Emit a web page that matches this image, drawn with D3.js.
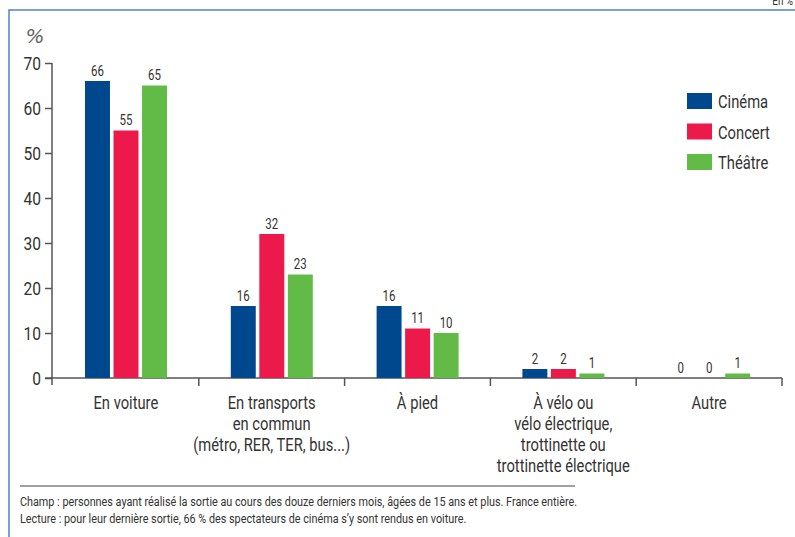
<!DOCTYPE html>
<html>
<head>
<meta charset="utf-8">
<script src="https://cdn.jsdelivr.net/npm/d3@7"></script>
<style>
  body { margin: 0; background: #fff; }
  svg text { font-family: "Liberation Sans Narrow", "Arial Narrow", "Roboto", sans-serif; fill: #333; }
</style>
</head>
<body>
<div id="chart"></div>
<script>
// data
var categories = ["En voiture", "En transports en commun", "À pied", "À vélo", "Autre"];
var categoryLines = [
  ["En voiture"],
  ["En transports", "en commun", "(métro, RER, TER, bus...)"],
  ["À pied"],
  ["À vélo ou", "vélo électrique,", "trottinette ou", "trottinette électrique"],
  ["Autre"]
];
var seriesNames = ["Cinéma", "Concert", "Théâtre"];
var cinema = [66, 16, 16, 2, 0];
var concert = [55, 32, 11, 2, 0];
var theatre = [65, 23, 10, 1, 1];
var yTicks = [0, 10, 20, 30, 40, 50, 60, 70];
var colors = ["#00488d", "#ec1a4a", "#62bb46"];
var footnotes = [
  "Champ : personnes ayant réalisé la sortie au cours des douze derniers mois, âgées de 15 ans et plus. France entière.",
  "Lecture : pour leur dernière sortie, 66 % des spectateurs de cinéma s’y sont rendus en voiture."
];

var width = 795, height = 537;
var values = [cinema, concert, theatre];

var svg = d3.select("#chart")
    .append("svg")
    .attr("width", width)
    .attr("height", height);

// frame
svg.append("path")
    .attr("d", "M9,537V10H795")
    .attr("fill", "none")
    .attr("stroke", "#4f82c0")
    .attr("stroke-width", 1.5);

svg.append("text")
    .attr("x", 793).attr("y", 5)
    .attr("text-anchor", "end")
    .attr("font-size", 12)
    .text("En %");

var x = d3.scaleBand()
    .domain(categories)
    .range([53, 782]);

var x1 = d3.scaleBand()
    .domain(seriesNames)
    .range([32, 114])
    .paddingInner(0.125);

var y = d3.scaleLinear()
    .domain([0, 70])
    .range([378, 63]);

// y axis
var yAxis = svg.append("g")
    .attr("transform", "translate(52,0)")
    .call(d3.axisLeft(y).tickValues(yTicks).tickSize(7).tickPadding(4).tickSizeOuter(0));
yAxis.select(".domain").remove();
yAxis.append("line")
    .attr("x1", 0).attr("x2", 0)
    .attr("y1", y(70)).attr("y2", 385)
    .attr("stroke", "#555").attr("stroke-width", 1.5);
yAxis.selectAll(".tick line").attr("stroke", "#555").attr("stroke-width", 1.5);
yAxis.selectAll(".tick text")
    .attr("font-size", 19)
    .attr("dy", "0.36em")
    .style("fill", "#333")
    .style("font-family", "\"Liberation Sans Narrow\", \"Arial Narrow\", Roboto, sans-serif");

// x axis line and group ticks
svg.append("line")
    .attr("x1", 45).attr("x2", 782)
    .attr("y1", y(0)).attr("y2", y(0))
    .attr("stroke", "#555").attr("stroke-width", 1.5);

svg.selectAll(".gtick")
    .data(categories)
    .enter()
    .append("line")
    .attr("class", "gtick")
    .attr("x1", function(d) { return x(d) + x.bandwidth(); })
    .attr("x2", function(d) { return x(d) + x.bandwidth(); })
    .attr("y1", y(0)).attr("y2", y(0) + 8)
    .attr("stroke", "#555").attr("stroke-width", 1.5);

// bars
var groups = svg.selectAll(".group")
    .data(categories)
    .enter()
    .append("g")
    .attr("class", "group")
    .attr("transform", function(d) { return "translate(" + x(d) + ",0)"; });

seriesNames.forEach(function(s, si) {
  groups.append("rect")
      .attr("x", x1(s))
      .attr("y", function(d, i) { return y(values[si][i]); })
      .attr("width", x1.bandwidth())
      .attr("height", function(d, i) { return y(0) - y(values[si][i]); })
      .attr("fill", colors[si]);

  groups.append("text")
      .attr("x", x1(s) + x1.bandwidth() / 2)
      .attr("y", function(d, i) { return y(values[si][i]) - 5; })
      .attr("text-anchor", "middle")
      .attr("font-size", 14)
      .text(function(d, i) { return values[si][i]; });
});

// category labels
groups.append("text")
    .attr("text-anchor", "middle")
    .attr("font-size", 18)
    .each(function(d, i) {
      var t = d3.select(this);
      categoryLines[i].forEach(function(line, li) {
        t.append("tspan")
            .attr("x", x.bandwidth() / 2)
            .attr("y", 409 + li * 21)
            .text(line);
      });
    });

// legend
var legend = svg.selectAll(".legend")
    .data(seriesNames)
    .enter()
    .append("g")
    .attr("class", "legend")
    .attr("transform", function(d, i) { return "translate(687," + (93 + i * 30.5) + ")"; });

legend.append("rect")
    .attr("width", 25).attr("height", 16)
    .attr("fill", function(d, i) { return colors[i]; });

legend.append("text")
    .attr("x", 31).attr("y", 15)
    .attr("font-size", 18)
    .text(function(d) { return d; });

// footnotes
svg.append("line")
    .attr("x1", 20).attr("x2", 575)
    .attr("y1", 486).attr("y2", 486)
    .attr("stroke", "#444").attr("stroke-width", 1);

svg.selectAll(".foot")
    .data(footnotes)
    .enter()
    .append("text")
    .attr("class", "foot")
    .attr("x", 20)
    .attr("y", function(d, i) { return 506 + i * 17; })
    .attr("font-size", 13.2)
    .text(function(d) { return d; });

// no condensed face installed: squeeze all text horizontally round its anchor
var k = 0.82;
svg.selectAll("text").each(function() {
  var t = d3.select(this);
  var ax = t.attr("x");
  if (ax === null) {
    var ts = t.select("tspan");
    ax = ts.empty() ? 0 : ts.attr("x");
  }
  ax = +ax || 0;
  t.attr("transform", "translate(" + ax + ",0) scale(" + k + ",1) translate(" + (-ax) + ",0)");
});

// unit label, italic, not squeezed
svg.append("text")
    .attr("x", 35).attr("y", 43)
    .attr("text-anchor", "middle")
    .attr("font-size", 20)
    .attr("font-style", "italic")
    .style("fill", "#666")
    .style("font-family", "\"DejaVu Sans\", sans-serif")
    .text("%");
</script>
</body>
</html>
